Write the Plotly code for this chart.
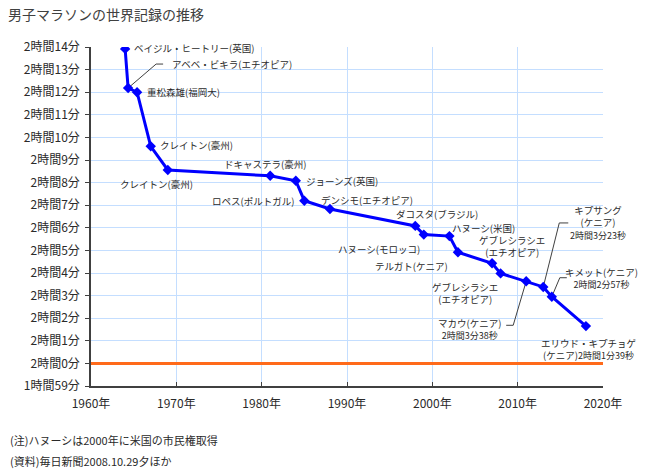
import plotly.graph_objects as go

# ---- data ----
runners = ["ベイジル・ヒートリー(英国)", "アベベ・ビキラ(エチオピア)", "重松森雄(福岡大)",
           "クレイトン(豪州)", "クレイトン(豪州)", "ドキャステラ(豪州)", "ジョーンズ(英国)",
           "ロペス(ポルトガル)", "デンシモ(エチオピア)", "ダコスタ(ブラジル)",
           "ハヌーシ(モロッコ)", "ハヌーシ(米国)", "テルガト(ケニア)",
           "ゲブレシラシエ<br>(エチオピア)", "ゲブレシラシエ<br>(エチオピア)",
           "マカウ(ケニア)", "キプサング<br>(ケニア)", "キメット(ケニア)", "エリウド・キプチョゲ<br>(ケニア)"]
years = [1964.0, 1964.35, 1965.4, 1967, 1969, 1981, 1984, 1985, 1988, 1998,
         1999, 2002, 2003, 2007, 2008, 2011, 2013, 2014, 2018]
# record times as h, m, s
hours = [2] * 19
minutes = [13, 12, 12, 9, 8, 8, 8, 7, 6, 6, 5, 5, 4, 4, 3, 3, 3, 2, 1]
seconds = [55, 11, 0, 36.4, 33.6, 18, 5, 12, 50, 5, 42, 38, 55, 26, 59, 38, 23, 57, 39]
time_notes = ["", "", "", "", "", "", "", "", "", "", "", "", "", "", "",
              "2時間3分38秒", "2時間3分23秒", "2時間2分57秒", "2時間1分39秒"]

tick_minutes = list(range(-1, 15))  # minutes past 2h
tick_labels = ["1時間59分"] + [f"2時間{m}分" for m in range(0, 15)]
x_ticks = [1960, 1970, 1980, 1990, 2000, 2010, 2020]
x_labels = [f"{y}年" for y in x_ticks]
TWO_HOURS = 7200

title = "男子マラソンの世界記録の推移"
note1 = "(注)ハヌーシは2000年に米国の市民権取得"
note2 = "(資料)毎日新聞2008.10.29夕ほか"

# ---- build ----
tsec = [h * 3600 + m * 60 + s for h, m, s in zip(hours, minutes, seconds)]
tick_vals = [TWO_HOURS + m * 60 for m in tick_minutes]
X_RANGE = [x_ticks[0], x_ticks[-1]]
Y_RANGE = [tick_vals[0], tick_vals[-1]]

FONT = "Noto Sans CJK JP"
TXT = "#2a2a2a"
LBL = 9.5

# the page adds an 8px body margin on the left and top
OFF = 8
W, H = 648 - OFF, 473 - OFF
L, R, T, B = 91 - OFF, 45, 47 - OFF, 87
pw, ph = W - L - R, H - T - B
plot_bottom = T + ph  # figure px
px_per_year = pw / (X_RANGE[1] - X_RANGE[0])
px_per_sec = ph / (Y_RANGE[1] - Y_RANGE[0])

fig = go.Figure()
fig.add_hline(y=TWO_HOURS, line=dict(color="#FF6A1A", width=3), layer="above")

# label placement: (dx, dy) pixel offset of label from point, anchor, leader corners
place = [
    (7, -1, "left", None),
    (42, -24, "left", [(28, -24), (35, -24)]),
    (8, 0, "left", None),
    (7, -1, "left", None),
    (-11, 14, "center", None),
    (-5, -12, "center", None),
    (8, 0, "left", None),
    (-8, 0, "right", None),
    (-11, -9, "left", None),
    (-21, -12, "left", None),
    (-2, 14, "right", None),
    (1, -8, "left", None),
    (-8, 13.5, "right", None),
    (19.5, -17, "center", None),
    (-36, 19.5, "center", None),
    (-57, 48, "center", [(-13, 44), (-20, 44)]),
    (55, -64, "center", [(16, -64), (25, -64)]),
    (50, -19, "center", [(8, -19), (15, -19)]),
    (3, 23, "center", None),
]

anns = []
for i, (x, y) in enumerate(zip(years, tsec)):
    dx, dy, anc, leader = place[i]
    name = runners[i]
    note = time_notes[i]
    if note:
        small = f"<span style='font-size:9px'>{note}</span>"
        if i == 18:
            parts = name.split("<br>")
            text = parts[0] + "<br>" + parts[1] + small
        else:
            text = name + "<br>" + small
    else:
        text = name
    anns.append(dict(x=x, y=y, xref="x", yref="y", text=text, showarrow=False,
                     xanchor=anc, yanchor="middle", xshift=dx, yshift=-dy,
                     font=dict(family=FONT, size=LBL, color=TXT), align="center"))
    if leader:
        pts = [(0, 0)] + leader
        lx = [x + p[0] / px_per_year for p in pts]
        ly = [y - p[1] / px_per_sec for p in pts]
        fig.add_trace(go.Scatter(x=lx, y=ly, mode="lines",
                                 line=dict(color="#404040", width=1),
                                 hoverinfo="skip", showlegend=False))

fig.add_trace(go.Scatter(
    x=years, y=tsec, mode="lines+markers",
    line=dict(color="#0000FF", width=3),
    marker=dict(symbol="diamond", size=8, color="#0000FF"),
    hoverinfo="skip", showlegend=False))


def py(page_y):
    return (plot_bottom - (page_y - OFF)) / ph


def px(page_x):
    return ((page_x - OFF) - L) / pw


anns.append(dict(xref="paper", yref="paper", x=px(8), y=py(440),
                 text=note1, showarrow=False, xanchor="left", yanchor="middle",
                 font=dict(family=FONT, size=11, color=TXT)))
anns.append(dict(xref="paper", yref="paper", x=px(8), y=py(461),
                 text=note2, showarrow=False, xanchor="left", yanchor="middle",
                 font=dict(family=FONT, size=11, color=TXT)))

fig.update_layout(
    width=W, height=H, margin=dict(l=L, r=R, t=T, b=B),
    paper_bgcolor="white", plot_bgcolor="white",
    title=dict(text=title, x=0, xanchor="left", xref="container",
               y=1 - 2 / H, yanchor="top", yref="container",
               pad=dict(l=0, t=0),
               font=dict(family=FONT, size=14, color="#404040")),
    font=dict(family=FONT, color=TXT),
    annotations=anns,
    xaxis=dict(range=X_RANGE, tickvals=x_ticks, ticktext=x_labels,
               showgrid=True, gridcolor="#C4DEFF", gridwidth=1,
               showline=True, linecolor="#404040", linewidth=1.5,
               ticks="inside", ticklen=4, tickcolor="#404040",
               ticklabelstandoff=6, zeroline=False,
               tickfont=dict(family=FONT, size=12, color=TXT)),
    yaxis=dict(range=Y_RANGE, tickvals=tick_vals, ticktext=tick_labels,
               showgrid=True, gridcolor="#C4DEFF", gridwidth=1,
               showline=True, linecolor="#404040", linewidth=1.5,
               ticks="outside", ticklen=4, tickcolor="#404040",
               ticklabelstandoff=3, zeroline=False,
               tickfont=dict(family=FONT, size=12, color=TXT)),
)
fig.write_html("out.html")
